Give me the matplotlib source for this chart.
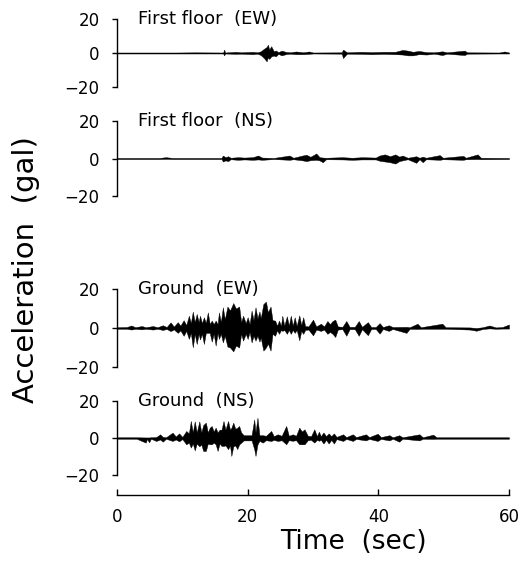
import matplotlib

matplotlib.use("Agg")
import matplotlib.pyplot as plt

# envelope knots: time (s), upper / lower (gal)
fe_t = [0, 9.0, 12.0, 16.25, 16.4, 16.55, 18.2, 19.0, 20.8, 21.5, 22.0, 22.5,
        22.9, 23.1, 23.3, 23.6, 24.0, 24.3, 24.7, 25.2, 25.9, 26.5, 27.4,
        28.5, 29.4, 30.0, 34.4, 34.6, 34.9, 35.2, 37.4, 39.0, 40.8, 42.6,
        43.7, 44.5, 45.3, 46.2, 47.4, 48.5, 49.8, 50.5, 53.2, 53.6, 58.5,
        59.3, 60]
fe_up = [0.3, 0.3, 0.4, 0.3, 2.0, 0.3, 0.7, 0.4, 0.7, 0.4, 1.0, 2.5,
         3.5, 4.9, 2.0, 4.0, 1.0, 1.5, 0.5, 1.4, 0.6, 0.4, 0.9,
         0.4, 0.9, 0.3, 0.4, 2.0, 1.2, 0.4, 0.7, 0.5, 0.7, 0.7,
         1.8, 1.4, 0.7, 1.2, 0.5, 0.4, 1.0, 0.4, 1.4, 0.4, 0.3,
         0.9, 0.3]
fe_lo = [-0.3, -0.3, -0.3, -0.3, -1.4, -0.3, -0.5, -0.4, -0.7, -0.4, -1.2, -3.0,
         -4.9, -2.5, -3.5, -2.0, -1.5, -2.0, -0.5, -1.4, -0.6, -0.4, -0.7,
         -0.7, -0.5, -0.3, -0.4, -3.0, -1.6, -0.4, -0.5, -0.7, -0.5, -0.7,
         -0.9, -1.4, -1.4, -0.7, -0.9, -0.4, -1.2, -0.4, -1.2, -0.4, -0.3,
         -0.3, -0.3]

fn_t = [0, 6.5, 7.5, 8.5, 16.0, 16.2, 16.6, 17.0, 17.4, 18.5, 19.5, 20.8,
        21.6, 22.2, 24.0, 26.4, 27.0, 28.4, 29.0, 29.6, 30.5, 31.0, 31.5,
        32.0, 34.5, 36.0, 37.5, 39.6, 40.2, 41.0, 41.8, 42.6, 43.2, 43.7,
        44.5, 45.8, 46.3, 46.8, 47.3, 49.4, 49.9, 53.0, 53.4, 55.2, 55.7, 60]
fn_up = [0.3, 0.3, 0.7, 0.3, 0.3, 1.6, 0.7, 1.2, 0.4, 0.7, 0.5, 0.7,
         1.6, 0.5, 0.3, 1.6, 0.4, 1.6, 2.0, 0.9, 2.7, 0.7, 0.5,
         0.4, 0.7, 0.4, 0.7, 0.5, 1.6, 2.2, 1.2, 2.2, 1.0, 1.6,
         0.4, 1.2, 0.4, 1.0, 0.4, 1.8, 0.4, 1.4, 0.4, 2.2, 0.4, 0.3]
fn_lo = [-0.3, -0.3, -0.2, -0.3, -0.3, -1.6, -1.0, -1.4, -0.4, -0.7, -0.5, -0.7,
         -0.5, -0.7, -0.3, -0.7, -0.4, -1.0, -1.4, -0.9, -0.7, -1.0, -2.0,
         -0.4, -0.5, -0.7, -0.5, -0.5, -1.2, -1.6, -2.0, -2.7, -1.4, -1.0,
         -0.4, -2.3, -0.4, -2.0, -0.4, -0.7, -0.4, -0.7, -0.4, -0.3, -0.4, -0.3]

ge_t = [0, 1.5, 2.2, 2.8, 3.8, 4.4, 5.5, 6.2, 7.0, 7.6, 8.2, 8.7, 9.3, 9.7,
        10.2, 10.6, 11.0, 11.3, 11.6, 11.9, 12.2, 12.5, 12.7, 13.0, 13.3,
        13.6, 13.9, 14.2, 14.5, 14.8, 15.1, 15.4, 15.6, 15.9, 16.2, 16.5,
        16.9, 17.3, 17.8, 18.2, 18.7, 19.0, 19.3, 19.7, 20.0, 20.3, 20.6,
        20.9, 21.2, 21.5, 21.8, 22.0, 22.4, 22.8, 23.1, 23.5, 23.8, 24.2,
        24.5, 24.8, 25.1, 25.3, 25.6, 26.0, 26.3, 26.6, 26.9, 27.2, 27.5,
        27.9, 28.2, 28.5, 28.8, 29.3, 30.0, 30.5, 31.2, 31.7, 32.2, 32.6,
        33.0, 33.4, 33.8, 34.5, 35.1, 35.6, 36.4, 37.0, 37.5, 38.4, 38.9,
        39.6, 40.2, 40.7, 41.6, 42.2, 44.3, 44.8, 46.0, 46.5, 49.8, 50.3,
        54.0, 55.0, 56.0, 57.0, 58.0, 59.0, 60.0]
ge_up = [0.4, 0.5, 1.3, 0.4, 1.0, 0.4, 1.0, 0.4, 1.4, 0.5, 2.9, 0.7, 3.0, 1.2,
         4.0, 1.5, 6.3, 2.5, 8.4, 3.0, 7.2, 3.0, 6.3, 2.5, 5.5,
         2.5, 8.0, 2.0, 3.8, 2.0, 3.8, 2.0, 8.0, 3.0, 10.6, 4.5,
         11.0, 9.0, 12.8, 10.0, 11.0, 3.0, 6.3, 2.5, 5.5, 2.0, 8.9,
         4.0, 10.6, 5.0, 8.5, 5.0, 12.3, 13.5, 8.0, 11.0, 4.0, 3.8,
         1.2, 3.8, 1.0, 6.3, 1.2, 6.0, 1.2, 6.3, 1.2, 5.5, 1.0,
         6.5, 1.5, 5.5, 1.0, 0.8, 4.3, 0.8, 2.2, 0.8, 3.6, 2.0,
         3.6, 4.3, 0.8, 0.6, 3.6, 0.6, 0.6, 3.6, 0.6, 3.0, 0.5,
         0.5, 2.5, 0.5, 1.4, 0.5, 0.6, 0.4, 2.2, 0.4, 2.2, 0.4,
         0.3, 0.0, 0.4, 1.3, 0.3, 0.5, 1.8]
ge_lo = [-0.4, -0.4, -0.8, -0.4, -0.7, -0.4, -0.8, -0.4, -1.0, -0.5, -1.6, -0.7, -2.5, -1.2,
         -4.0, -1.5, -5.6, -2.5, -9.9, -3.0, -8.2, -3.0, -5.9, -3.0, -8.2,
         -2.5, -2.5, -2.5, -7.0, -3.0, -9.0, -2.5, -5.6, -3.0, -7.4, -4.0,
         -9.5, -10.0, -12.0, -9.0, -10.0, -3.0, -6.5, -3.0, -5.6, -2.0, -7.4,
         -4.0, -6.5, -4.0, -7.0, -5.0, -11.6, -10.0, -8.0, -11.6, -3.0, -4.0,
         -1.2, -3.0, -1.0, -1.5, -1.0, -3.0, -1.0, -3.0, -1.0, -2.5, -1.0,
         -6.3, -1.5, -3.0, -1.0, -0.8, -3.8, -0.8, -1.5, -0.8, -3.0, -2.0,
         -3.0, -4.6, -0.8, -0.6, -4.0, -0.6, -0.6, -4.0, -0.6, -3.7, -0.5,
         -0.5, -2.9, -0.5, -1.5, -0.5, -2.5, -0.4, -0.5, -0.4, -0.4, -0.4,
         -0.8, -1.4, -0.5, -0.2, -0.4, -0.3, -0.3]

gn_t = [0, 3.0, 4.4, 4.6, 4.9, 5.2, 6.0, 6.6, 7.0, 7.5, 8.5, 9.0, 9.5, 10.0,
        10.6, 11.0, 11.3, 11.6, 11.9, 12.2, 12.6, 12.9, 13.2, 13.6, 13.9,
        14.2, 14.5, 14.8, 15.1, 15.4, 15.7, 16.0, 16.3, 16.6, 17.0, 17.3,
        17.5, 17.8, 18.1, 18.4, 18.7, 19.0, 19.4, 20.0, 20.6, 21.0, 21.2,
        21.5, 21.8, 22.3, 22.8, 23.6, 24.0, 24.6, 25.2, 25.9, 26.3, 26.9,
        27.4, 27.9, 28.3, 28.7, 29.2, 29.7, 30.2, 30.6, 30.9, 31.2, 31.6,
        32.0, 32.4, 32.8, 33.2, 33.6, 34.6, 35.1, 36.1, 36.6, 38.1, 38.6,
        39.9, 40.4, 41.7, 42.2, 43.2, 43.7, 46.3, 46.8, 48.4, 48.9, 60]
gn_up = [0.4, 0.4, 0.3, 0.3, 0.3, 0.4, 0.5, 2.0, 0.6, 0.4, 2.9, 0.8, 2.5, 0.6,
         3.8, 2.5, 9.2, 3.0, 9.0, 3.0, 9.0, 3.0, 7.0, 8.3, 3.0,
         5.6, 6.5, 3.5, 5.6, 3.0, 4.5, 4.5, 9.2, 4.5, 9.2, 4.5,
         5.5, 8.3, 5.0, 5.5, 6.5, 3.0, 1.5, 1.5, 1.5, 10.0, 3.0,
         11.0, 1.5, 1.5, 1.2, 3.8, 1.0, 2.0, 1.2, 6.5, 1.2, 2.0,
         1.2, 5.6, 3.5, 4.7, 1.2, 1.0, 4.7, 1.0, 3.4, 1.0, 3.0,
         1.0, 2.5, 1.0, 2.5, 0.6, 2.0, 0.5, 2.0, 0.5, 2.0, 0.5,
         2.3, 0.5, 1.5, 0.4, 1.5, 0.4, 2.0, 0.4, 1.8, 0.4, 0.4]
gn_lo = [-0.4, -0.4, -2.5, -0.5, -2.3, -0.4, -1.6, -0.8, -2.0, -0.4, -1.6, -0.8, -1.8, -0.6,
         -3.4, -2.5, -5.2, -3.0, -6.7, -3.0, -4.5, -3.5, -7.0, -7.0, -3.0,
         -3.4, -3.4, -2.5, -3.4, -7.0, -3.0, -4.3, -4.3, -4.0, -6.0, -4.0,
         -9.7, -4.5, -4.0, -6.0, -3.5, -2.5, -1.3, -1.3, -1.3, -6.0, -9.7,
         -3.5, -1.5, -2.5, -1.2, -1.6, -1.0, -1.6, -1.2, -3.4, -1.2, -1.5,
         -1.2, -3.4, -3.4, -3.4, -1.2, -1.0, -2.5, -1.0, -1.5, -1.0, -3.0,
         -1.0, -3.0, -1.0, -3.0, -0.6, -1.6, -0.5, -1.6, -0.5, -1.3, -0.5,
         -1.6, -0.5, -1.3, -0.4, -2.0, -0.4, -1.3, -0.4, -0.5, -0.4, -0.4]

titles = ["First floor  (EW)", "First floor  (NS)", "Ground  (EW)", "Ground  (NS)"]
y_ticks = [-20, 0, 20]
x_ticks = [0, 20, 40, 60]

W, H = 529, 573
# pixel boxes (top of +20, bottom of -20) of each panel in the scan
boxes = [(19, 87), (121, 196), (289, 367), (401, 475)]
x0_px, x1_px = 117, 509

fig = plt.figure(figsize=(W / 100, H / 100), dpi=100)

traces = [(fe_t, fe_up, fe_lo), (fn_t, fn_up, fn_lo),
          (ge_t, ge_up, ge_lo), (gn_t, gn_up, gn_lo)]

for i, ((t, up, lo), title, (top, bot)) in enumerate(zip(traces, titles, boxes)):
    ax = fig.add_axes([x0_px / W, 1 - bot / H, (x1_px - x0_px) / W, (bot - top) / H])
    ax.fill_between(t, lo, up, color="black", linewidth=0.3)
    ax.set_xlim(0, 60)
    ax.set_ylim(-20, 20)
    for s in ("top", "right"):
        ax.spines[s].set_visible(False)
    ax.spines["left"].set_linewidth(1.0)
    ax.set_yticks(y_ticks)
    ax.tick_params(axis="y", direction="out", length=3.5, width=1.0, pad=9,
                   labelsize=12)
    ax.text(3.2, 20, title, fontsize=13, va="center", ha="left")
    if i < 3:
        ax.spines["bottom"].set_visible(False)
        ax.set_xticks([])
    else:
        ax.spines["bottom"].set_position(("outward", 14.4))
        ax.spines["bottom"].set_bounds(0, 60)
        ax.spines["bottom"].set_linewidth(1.0)
        ax.set_xticks(x_ticks)
        ax.tick_params(axis="x", direction="in", length=4, width=1.0, pad=9,
                       labelsize=12)
    ax.patch.set_visible(False)

fig.text(26 / W, 1 - 270 / H, "Acceleration  (gal)", rotation=90,
         fontsize=21, ha="center", va="center")
fig.text(353 / W, 1 - 542 / H, "Time  (sec)", fontsize=19,
         ha="center", va="center")

fig.savefig("out.png", dpi=100)
